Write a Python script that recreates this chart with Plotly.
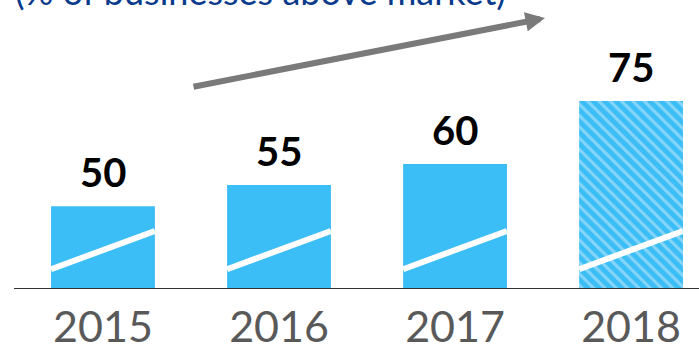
import plotly.graph_objects as go

# ---- data ----
years = ["2015", "2016", "2017", "2018"]
values = [50, 55, 60, 75]
title_text = "(% of businesses above market)"

# ---- style ----
bar_color = "#3bbdf5"
W, H = 699, 351
y_range = [30.3, 99.0]
x_range = [-0.585, 3.386]
bar_w = 0.59
slash_lo, slash_hi = 35.0, 44.1   # axis-break slash levels (data units)

fig = go.Figure()
fig.add_trace(go.Bar(
    x=years, y=values, width=bar_w,
    marker=dict(color=bar_color, line=dict(width=0), pattern=dict(
        shape=["", "", "", "\\"],
        fgcolor="#d4f0fd", size=8, solidity=0.38)),
    hoverinfo="skip",
))

# value labels
for i, (yr, v) in enumerate(zip(years, values)):
    fig.add_annotation(x=i, y=v, xref="x", yref="y", text=f"<b>{v}</b>",
                       showarrow=False, yanchor="bottom", yshift=8,
                       font=dict(family="Lato", size=40, color="#000000"))
    # white axis-break slash across each bar
    fig.add_shape(type="line", xref="x", yref="y",
                  x0=i - bar_w / 2, x1=i + bar_w / 2, y0=slash_lo, y1=slash_hi,
                  line=dict(color="white", width=6), layer="above")

# baseline
fig.add_shape(type="line", xref="paper", yref="y", x0=0.02, x1=1,
              y0=y_range[0], y1=y_range[0], line=dict(color="#333333", width=2))

# trend arrow
fig.add_annotation(xref="paper", yref="paper", x=545 / W, y=1 - 18 / 289,
                   ax=192 - 545, ay=87 - 18, axref="pixel", ayref="pixel",
                   showarrow=True, arrowhead=2, arrowsize=0.65, arrowwidth=6,
                   arrowcolor="#7a7a7a", text="")

# title (partially cut at top, as in the reference)
fig.add_annotation(xref="paper", yref="paper", x=13 / W, y=1 + 9 / 289,
                   xanchor="left", yanchor="middle", showarrow=False,
                   text=title_text,
                   font=dict(family="Lato", size=36, color="#0a3a8c"))

fig.update_layout(
    width=W, height=H,
    margin=dict(l=0, r=0, t=0, b=62),
    paper_bgcolor="white", plot_bgcolor="white",
    showlegend=False,
    xaxis=dict(type="category", range=x_range, showgrid=False, zeroline=False,
               showline=False, ticks="", automargin=False, ticklabelstandoff=9,
               tickfont=dict(family="Lato", size=43, color="#595959")),
    yaxis=dict(range=y_range, visible=False, showgrid=False, zeroline=False),
)

fig.write_html("out.html")
